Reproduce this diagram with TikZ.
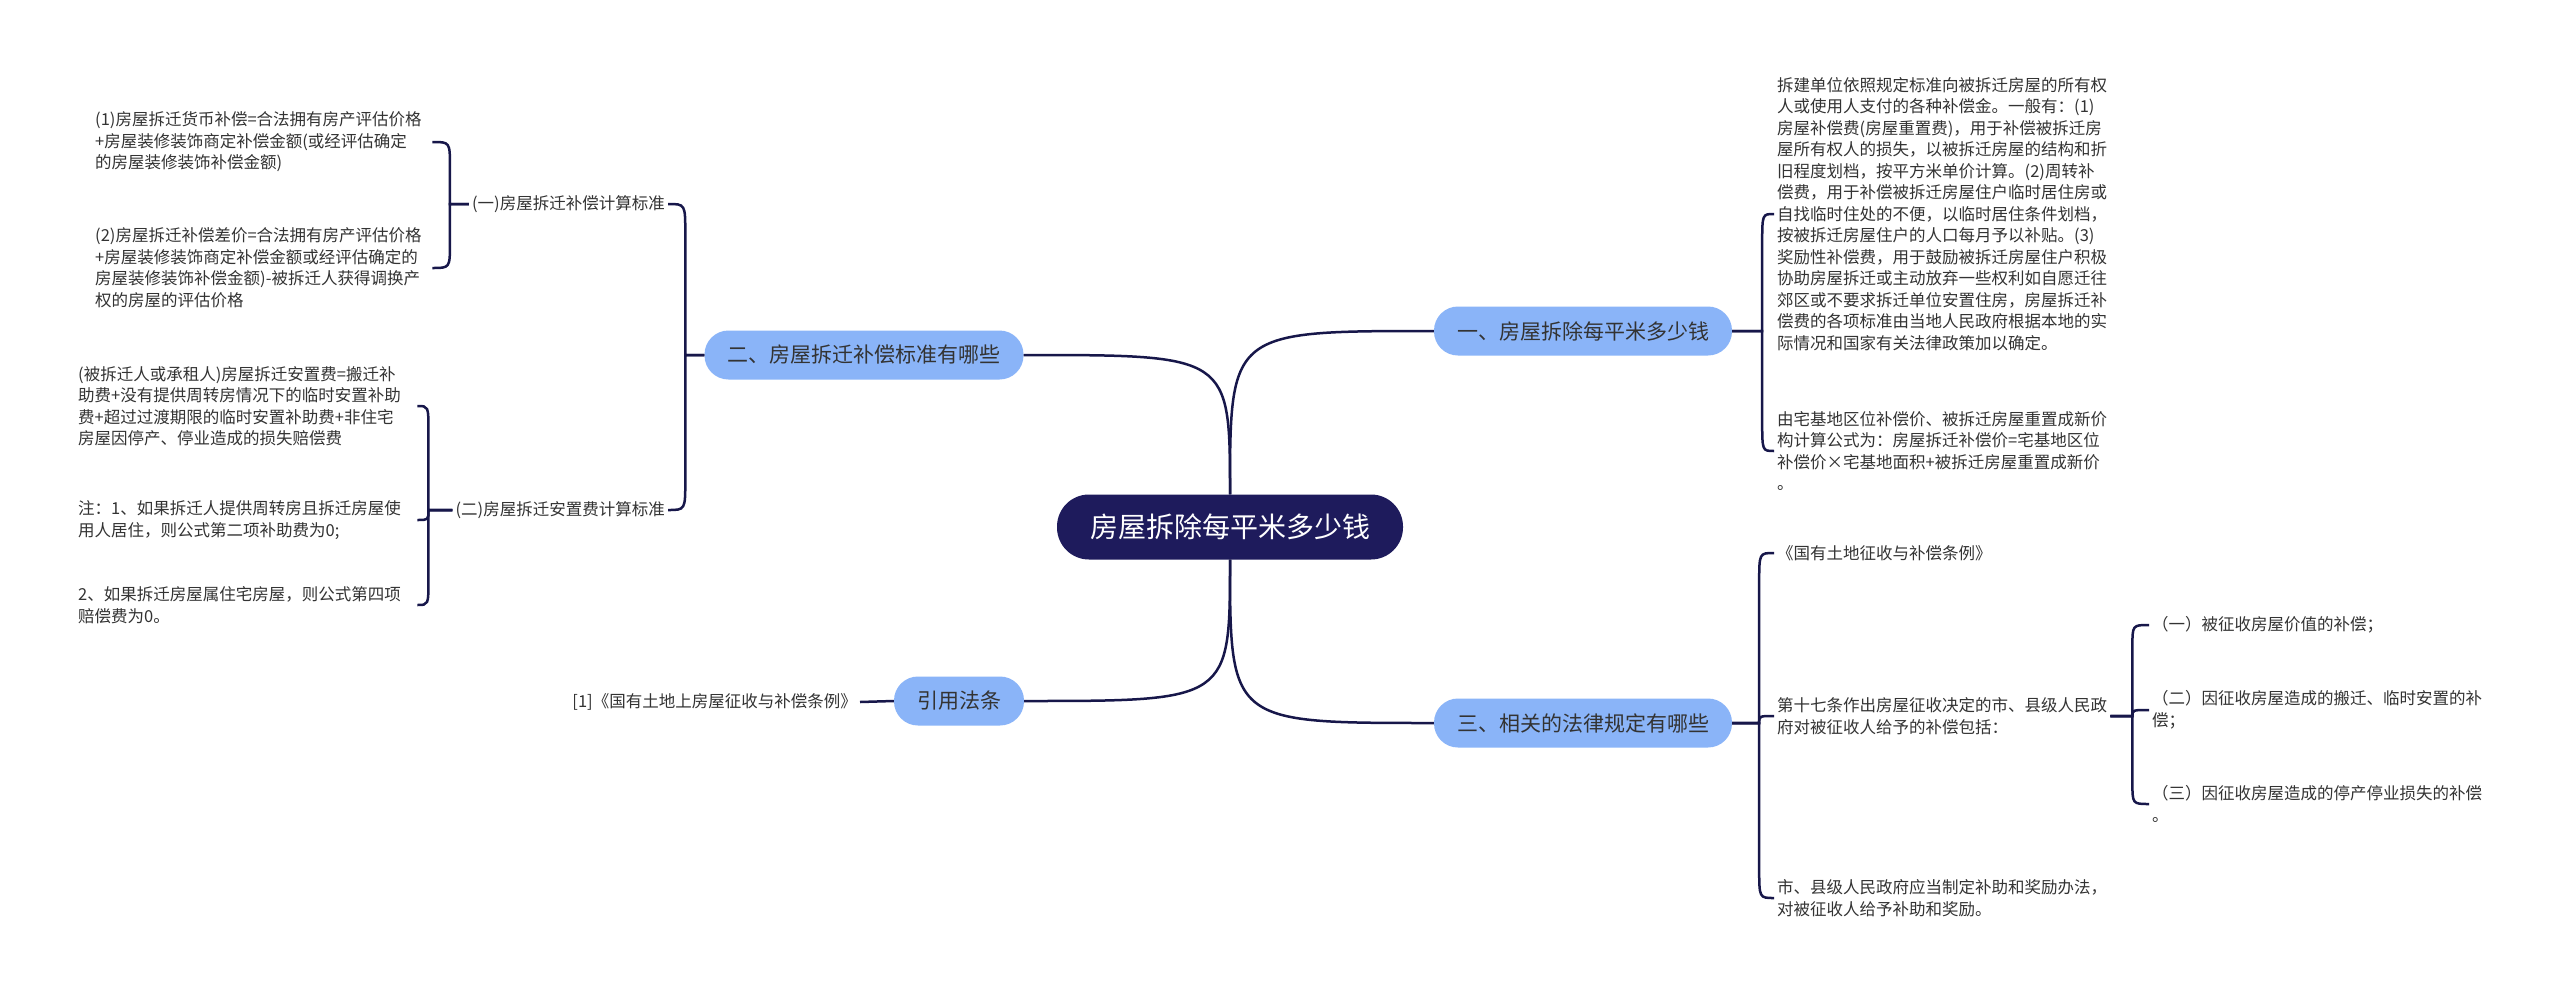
\documentclass[tikz,border=0pt]{standalone}
\usepackage{fontspec}
\setmainfont{Noto Sans CJK SC}
\usetikzlibrary{calc}
\definecolor{navy}{HTML}{1E1B5C}
\definecolor{lblue}{HTML}{8AB4F8}
\definecolor{linec}{HTML}{17174A}
\definecolor{txt}{HTML}{333333}
\tikzset{
  root/.style={rounded corners=32pt, fill=navy, text=white, font=\fontsize{28}{34}\selectfont,
    minimum width=346pt, minimum height=65pt, inner sep=0pt},
  lvl/.style={rounded corners=24pt, fill=lblue, text=txt, font=\fontsize{21}{26}\selectfont,
    minimum height=49pt, inner xsep=23pt, inner ysep=0pt},
  leaf/.style={text=txt, font=\fontsize{16.5}{21.5}\selectfont, align=left, inner xsep=3pt, inner ysep=0pt},
  conn/.style={draw=linec, line width=2.5pt},
  crv/.style={to path={.. controls (\tikztostart |- \tikztotarget) and (\tikztostart |- \tikztotarget) .. (\tikztotarget)}},
  brR/.style 2 args={to path={let \p1=(\tikztostart), \p2=(\tikztotarget),
      \n1={(\y2>\y1)-(\y2<\y1)}, \n2={min(#2,abs(\y2-\y1))} in
      -- ({\x1+#1},\y1) -- ({\x1+#1},{\y2-\n1*\n2*1pt}) .. controls ({\x1+#1},\y2) .. (\x2,\y2)}},
  brL/.style 2 args={to path={let \p1=(\tikztostart), \p2=(\tikztotarget),
      \n1={(\y2>\y1)-(\y2<\y1)}, \n2={min(#2,abs(\y2-\y1))} in
      -- ({\x1-#1},\y1) -- ({\x1-#1},{\y2-\n1*\n2*1pt}) .. controls ({\x1-#1},\y2) .. (\x2,\y2)}},
}
\begin{document}
\begin{tikzpicture}[x=1pt,y=-1pt]
\fill[white] (0,0) rectangle (2560,996);
\useasboundingbox (0,0) rectangle (2560,996);

% nodes
\node[root] (root) at (1230,527) {房屋拆除每平米多少钱};
\node[lvl] (n1) at (1583,331) {一、房屋拆除每平米多少钱};
\node[lvl] (n3) at (1583,723) {三、相关的法律规定有哪些};
\node[lvl] (n2) at (864,355) {二、房屋拆迁补偿标准有哪些};
\node[lvl] (n4) at (959,701) {引用法条};

% right side leaves
\node[leaf, anchor=west] (r1a) at (1774,214) {拆建单位依照规定标准向被拆迁房屋的所有权\\人或使用人支付的各种补偿金。一般有：(1)\\房屋补偿费(房屋重置费)，用于补偿被拆迁房\\屋所有权人的损失，以被拆迁房屋的结构和折\\旧程度划档，按平方米单价计算。(2)周转补\\偿费，用于补偿被拆迁房屋住户临时居住房或\\自找临时住处的不便，以临时居住条件划档，\\按被拆迁房屋住户的人口每月予以补贴。(3)\\奖励性补偿费，用于鼓励被拆迁房屋住户积极\\协助房屋拆迁或主动放弃一些权利如自愿迁往\\郊区或不要求拆迁单位安置住房，房屋拆迁补\\偿费的各项标准由当地人民政府根据本地的实\\际情况和国家有关法律政策加以确定。};
\node[leaf, anchor=west] (r1b) at (1774,451) {由宅基地区位补偿价、被拆迁房屋重置成新价\\构计算公式为：房屋拆迁补偿价=宅基地区位\\补偿价×宅基地面积+被拆迁房屋重置成新价\\。};
\node[leaf, anchor=west] (r3a) at (1774,553) {《国有土地征收与补偿条例》};
\node[leaf, anchor=west] (r3b) at (1774,716) {第十七条作出房屋征收决定的市、县级人民政\\府对被征收人给予的补偿包括：};
\node[leaf, anchor=west] (r3c) at (1774,898) {市、县级人民政府应当制定补助和奖励办法，\\对被征收人给予补助和奖励。};
\node[leaf, anchor=west] (s1) at (2149,625) {（一）被征收房屋价值的补偿；};
\node[leaf, anchor=west] (s2) at (2149,710) {（二）因征收房屋造成的搬迁、临时安置的补\\偿；};
\node[leaf, anchor=west] (s3) at (2149,804) {（三）因征收房屋造成的停产停业损失的补偿\\。};

% left side leaves
\node[leaf, anchor=east] (lab1) at (668,204) {(一)房屋拆迁补偿计算标准};
\node[leaf, anchor=east] (lab2) at (668,510) {(二)房屋拆迁安置费计算标准};
\node[leaf, anchor=west, text width=334pt] (la1) at (92,142) {(1)房屋拆迁货币补偿=合法拥有房产评估价格\\+房屋装修装饰商定补偿金额(或经评估确定\\的房屋装修装饰补偿金额)};
\node[leaf, anchor=west, text width=334pt] (la2) at (92,268) {(2)房屋拆迁补偿差价=合法拥有房产评估价格\\+房屋装修装饰商定补偿金额或经评估确定的\\房屋装修装饰补偿金额)-被拆迁人获得调换产\\权的房屋的评估价格};
\node[leaf, anchor=west, text width=336pt] (lb1) at (75,406) {(被拆迁人或承租人)房屋拆迁安置费=搬迁补\\助费+没有提供周转房情况下的临时安置补助\\费+超过过渡期限的临时安置补助费+非住宅\\房屋因停产、停业造成的损失赔偿费};
\node[leaf, anchor=west, text width=336pt] (lb2) at (75,520) {注：1、如果拆迁人提供周转房且拆迁房屋使\\用人居住，则公式第二项补助费为0;};
\node[leaf, anchor=west, text width=336pt] (lb3) at (75,605) {2、如果拆迁房屋属住宅房屋，则公式第四项\\赔偿费为0。};
\node[leaf, anchor=east] (ref) at (860,702) {[1]《国有土地上房屋征收与补偿条例》};

% connectors
\draw[conn] (root.north) to[crv] (n1.west);
\draw[conn] (root.north) to[crv] (n2.east);
\draw[conn] (root.south) to[crv] (n3.west);
\draw[conn] (root.south) to[crv] (n4.east);

\draw[conn] (n1.east) to[brR={30pt}{30}] (r1a.west);
\draw[conn] (n1.east) to[brR={30pt}{30}] (r1b.west);
\draw[conn] (n3.east) to[brR={27pt}{30}] (r3a.west);
\draw[conn] (n3.east) to[brR={27pt}{30}] (r3b.west);
\draw[conn] (n3.east) to[brR={27pt}{30}] (r3c.west);
\draw[conn] (r3b.east) to[brR={22pt}{22}] (s1.west);
\draw[conn] (r3b.east) to[brR={22pt}{22}] (s2.west);
\draw[conn] (r3b.east) to[brR={22pt}{22}] (s3.west);

\draw[conn] (n2.west) to[brL={19pt}{30}] (lab1.east);
\draw[conn] (n2.west) to[brL={19pt}{30}] (lab2.east);
\draw[conn] (lab1.west) to[brL={19pt}{25}] (la1.east);
\draw[conn] (lab1.west) to[brL={19pt}{25}] (la2.east);
\draw[conn] (lab2.west) to[brL={24pt}{25}] (lb1.east);
\draw[conn] (lab2.west) to[brL={24pt}{25}] (lb2.east);
\draw[conn] (lab2.west) to[brL={24pt}{25}] (lb3.east);
\draw[conn] (n4.west) -- (ref.east);
\end{tikzpicture}
\end{document}
